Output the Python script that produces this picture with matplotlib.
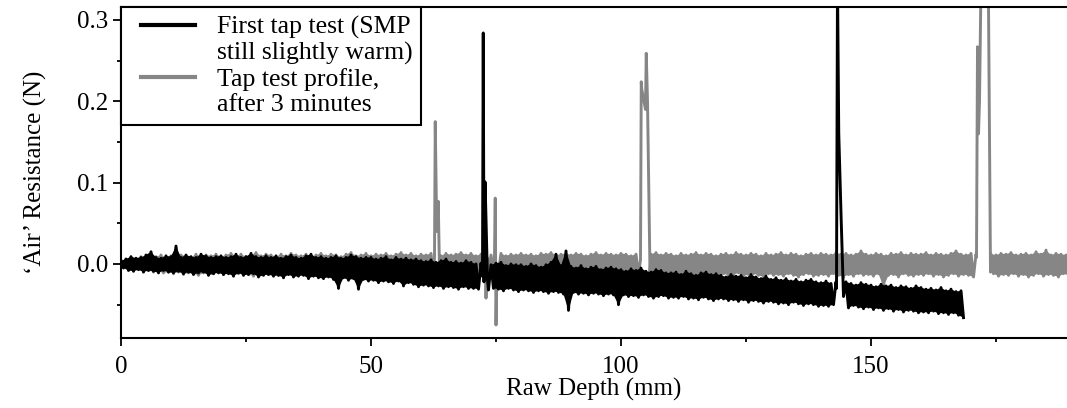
import numpy as np
import matplotlib
matplotlib.use('Agg')
import matplotlib.pyplot as plt
from matplotlib.lines import Line2D
from matplotlib.legend_handler import HandlerLine2D
from matplotlib.ticker import MultipleLocator, FormatStrFormatter

# values, in mN; depth step is 1 mm
# upper / lower edge of the noisy band for each mm of depth
black_hi = [4, 6, 9, 7, 8, 11, 15, 8, 7, 10,
            9, 22, 8, 11, 9, 8, 12, 10, 8, 9,
            10, 8, 9, 12, 8, 9, 13, 9, 8, 10,
            8, 10, 7, 9, 11, 8, 7, 10, 12, 8,
            9, 7, 8, 10, 7, 8, 11, 9, 7, 8,
            8, 6, 7, 9, 5, 8, 6, 7, 5, 6,
            4, 3, 5, 2, 4, 6, 2, 3, 1, 4,
            2, 0, 1, 3, -1, 1, 2, -2, 0, -1,
            -1, -3, 0, -2, -4, -1, 2, 12, -2, 16,
            -3, -5, -2, -6, -4, -3, -7, -5, -4, -6,
            -7, -9, -6, -8, -5, -9, -10, -7, -8, -11,
            -11, -10, -13, -9, -12, -14, -11, -10, -13, -12,
            -14, -16, -13, -15, -14, -17, -13, -16, -18, -15,
            -19, -17, -20, -18, -21, -19, -22, -20, -19, -22,
            -23, -21, -24, -22, -25, -22, -24, -26, -23, -25,
            -26, -28, -25, -27, -26, -29, -27, -28, -30, -27,
            -29, -31, -30, -32, -29, -33, -31, -34, -33]
black_lo = [-5, -8, -9, -7, -10, -8, -9, -11, -8, -10,
            -11, -9, -12, -10, -13, -11, -10, -14, -12, -11,
            -13, -12, -15, -11, -14, -13, -12, -16, -14, -13,
            -15, -14, -17, -13, -16, -15, -14, -18, -15, -17,
            -18, -16, -19, -30, -17, -20, -18, -31, -19, -21,
            -20, -23, -21, -22, -24, -21, -27, -23, -25, -28,
            -26, -27, -29, -27, -30, -28, -29, -31, -28, -30,
            -30, -31, -29, -32, -30, -31, -33, -30, -32, -34,
            -32, -33, -35, -33, -34, -36, -34, -35, -37, -57,
            -35, -37, -36, -38, -36, -37, -39, -37, -38, -50,
            -38, -40, -39, -41, -38, -40, -42, -40, -39, -42,
            -41, -42, -40, -43, -42, -44, -41, -43, -45, -43,
            -43, -45, -44, -46, -44, -47, -45, -46, -48, -46,
            -47, -49, -48, -50, -47, -49, -51, -49, -50, -52,
            -51, -52, -50, -53, -52, -54, -51, -53, -55, -53,
            -56, -54, -57, -55, -58, -56, -59, -57, -58, -60,
            -59, -60, -58, -61, -60, -62, -60, -63, -66]

gray_hi = [4, 6, 8, 7, 9, 8, 10, 9, 11, 8,
           10, 9, 11, 10, 8, 12, 9, 11, 10, 12,
           9, 11, 13, 10, 12, 9, 11, 14, 10, 12,
           11, 9, 12, 10, 13, 11, 10, 12, 9, 11,
           13, 10, 12, 11, 9, 12, 14, 10, 11, 13,
           10, 12, 11, 13, 10, 12, 14, 11, 13, 10,
           12, 11, 13, 12, 10, 13, 11, 12, 14, 11,
           13, 10, 12, 14, 11, 12, 13, 10, 12, 11,
           13, 11, 12, 10, 13, 12, 14, 11, 12, 13,
           11, 13, 12, 10, 12, 14, 11, 13, 12, 11,
           13, 12, 10, 12, 11, 13, 12, 14, 11, 13,
           12, 10, 13, 11, 12, 14, 11, 13, 12, 10,
           12, 13, 11, 14, 12, 11, 13, 12, 10, 13,
           11, 12, 14, 11, 13, 12, 10, 12, 13, 11,
           13, 12, 11, 14, 12, 13, 11, 12, 16, 12,
           11, 13, 12, 10, 13, 12, 14, 11, 13, 12,
           12, 14, 11, 13, 12, 11, 13, 16, 12, 11,
           13, 12, 12, 12, 12, 11, 13, 12, 14, 11,
           12, 13, 11, 15, 12, 17, 11, 13, 12, 11]
gray_lo = [-3, -6, -8, -7, -9, -8, -10, -9, -11, -10,
           -12, -10, -13, -11, -12, -14, -11, -13, -12, -10,
           -13, -11, -14, -12, -10, -13, -15, -12, -11, -13,
           -12, -14, -11, -13, -12, -10, -13, -11, -14, -12,
           -11, -13, -12, -14, -11, -13, -10, -12, -14, -11,
           -13, -12, -10, -14, -12, -13, -11, -14, -12, -10,
           -13, -11, -14, -12, -13, -11, -12, -14, -10, -13,
           -12, -14, -11, -13, -12, -10, -13, -12, -14, -11,
           -13, -12, -10, -14, -12, -13, -11, -14, -12, -13,
           -11, -13, -12, -14, -10, -13, -12, -11, -14, -12,
           -13, -11, -14, -12, -10, -13, -12, -14, -11, -13,
           -12, -14, -11, -13, -15, -12, -14, -11, -13, -16,
           -12, -14, -13, -11, -15, -13, -12, -14, -16, -12,
           -14, -13, -15, -12, -14, -16, -13, -12, -15, -14,
           -13, -15, -12, -14, -16, -13, -15, -12, -14, -13,
           -15, -12, -28, -14, -13, -16, -12, -14, -15, -13,
           -14, -12, -15, -13, -16, -14, -12, -15, -13, -14,
           -16, -13, -12, -12, -12, -15, -13, -14, -12, -15,
           -13, -16, -14, -12, -15, -13, -14, -16, -12, -14]

# tap spikes: (depth mm, force mN)
black_spikes = [
    ([72.3, 72.45, 72.6, 72.8, 72.9, 73.3], [-15, 284, -22, 101, 80, -20]),
    ([143.1, 143.3, 143.55, 144.0, 144.5], [-30, 345, 161, 62, -40]),
]
gray_spikes = [
    ([62.7, 62.85, 63.15, 63.45, 63.7], [8, 175, 40, 77, -8]),
    ([72.6, 72.8, 73.0, 73.2], [10, 38, -42, 8]),
    ([74.7, 74.85, 75.0, 75.2], [10, 81, -75, -5]),
    ([103.9, 104.05, 104.15, 104.9, 105.05, 105.3, 105.8], [5, 224, 215, 190, 259, 200, -10]),
    ([171.1, 171.3, 171.5, 171.7, 172.0, 172.5, 173.0, 173.5, 173.9],
     [8, 267, 160, 200, 345, 330, 345, 320, -10]),
]


def trace(hi, lo, spikes):
    # noisy trace: upper value at each mm, lower value half a mm later
    d = np.arange(len(hi))
    x = np.column_stack([d, d + 0.5]).ravel().astype(float)
    y = np.column_stack([hi, lo]).ravel().astype(float)
    for sx, sy in spikes:
        keep = (x < sx[0]) | (x > sx[-1])
        x = np.concatenate([x[keep], sx])
        y = np.concatenate([y[keep], sy])
    order = np.argsort(x, kind='stable')
    return x[order], y[order] / 1000.0


def band(ax, hi, lo, spikes, color, z):
    # solid body of the noisy trace, split where a spike breaks it
    d = np.arange(len(hi))
    hi = np.array(hi) / 1000.0
    lo = np.array(lo) / 1000.0
    mask = np.ones(len(d), bool)
    for sx, sy in spikes:
        mask &= ~((d >= sx[0] - 0.5) & (d <= sx[-1]))
    idx = np.flatnonzero(mask)
    runs = np.split(idx, np.flatnonzero(np.diff(idx) > 1) + 1)
    for r in runs:
        if len(r) < 2:
            continue
        px = np.concatenate([d[r], (d[r] + 0.5)[::-1]])
        py = np.concatenate([hi[r], lo[r][::-1]])
        ax.fill(px, py, color=color, lw=0, zorder=z)


plt.rcParams['font.family'] = ['Liberation Serif', 'DejaVu Serif']
plt.rcParams['font.size'] = 18

gray = '#868686'
fig = plt.figure(figsize=(10.67, 4.08), dpi=100)
ax = fig.add_axes([0.1134, 0.1716, 0.8866, 0.8114])

gx, gy = trace(gray_hi, gray_lo, gray_spikes)
bx, by = trace(black_hi, black_lo, black_spikes)
band(ax, gray_hi, gray_lo, gray_spikes, gray, 1)
ax.plot(gx, gy, color=gray, lw=2.1, zorder=2)
band(ax, black_hi, black_lo, black_spikes, 'black', 3)
ax.plot(bx, by, color='black', lw=2.1, zorder=4)

ax.set_xlim(0, 189.2)
ax.set_ylim(-0.091, 0.316)
ax.xaxis.set_major_locator(MultipleLocator(50))
ax.xaxis.set_minor_locator(MultipleLocator(25))
ax.yaxis.set_major_locator(MultipleLocator(0.1))
ax.yaxis.set_minor_locator(MultipleLocator(0.05))
ax.yaxis.set_major_formatter(FormatStrFormatter('%.1f'))
ax.tick_params(which='major', direction='out', length=6, width=1.3, pad=3)
ax.tick_params(which='minor', direction='out', length=3, width=1.3)
ax.tick_params(axis='x', which='major', pad=7)
for s in ['left', 'bottom', 'top']:
    ax.spines[s].set_linewidth(1.5)
ax.spines['right'].set_visible(False)

ax.set_xlabel('Raw Depth (mm)', labelpad=0)
ax.set_ylabel('\u2018Air\u2019 Resistance (N)', labelpad=22)

# legend: each label spans two lines, handle sits on the first line
blank = Line2D([], [], color='none')
leg_b = Line2D([], [], color='black', lw=3)
leg_g = Line2D([], [], color=gray, lw=3)
labels = ['First tap test (SMP', 'still slightly warm)',
          'Tap test profile,', 'after 3 minutes']
leg = ax.legend([leg_b, blank, leg_g, blank], labels, loc='upper left',
                borderaxespad=0, fancybox=False, framealpha=1, edgecolor='black',
                handlelength=2.53, handletextpad=0.85, labelspacing=0.1,
                borderpad=0.35, fontsize=18.5,
                handler_map={Line2D: HandlerLine2D(xpad=0.41)})
leg.get_frame().set_linewidth(1.5)
leg.set_zorder(10)

fig.savefig('out.png', dpi=100)
